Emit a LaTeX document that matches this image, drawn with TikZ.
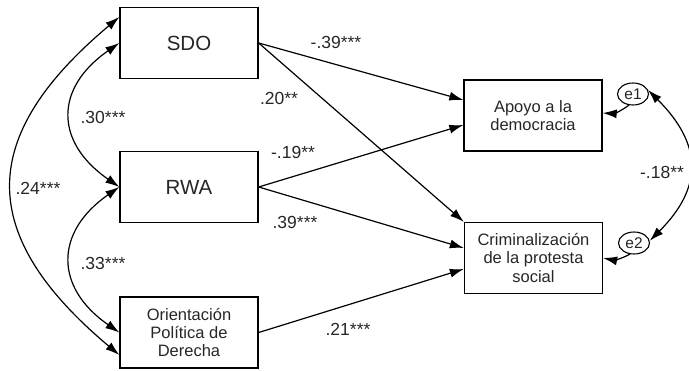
\documentclass[tikz,border=0pt]{standalone}
\usepackage{fontspec}
\setmainfont{Liberation Sans}
\usetikzlibrary{arrows.meta,shapes.geometric}
\begin{document}
\begin{tikzpicture}[x=1pt, y=1pt, line width=1.2pt, >={Latex[length=14pt,width=9pt]},
  box/.style={draw, line width=1.3pt, minimum width=138pt, minimum height=71pt, inner sep=0pt, align=center, text=black!85, font=\fontsize{16.5}{18.3}\selectfont},
  bigbox/.style={box, font=\fontsize{20.5}{24}\selectfont},
  err/.style={draw, ellipse, line width=1.1pt, minimum width=31pt, minimum height=22pt, inner sep=0pt, text=black!85, font=\fontsize{15.5}{18}\selectfont},
  coef/.style={text=black!85, font=\fontsize{17.5}{20}\selectfont}]
\useasboundingbox (0,0) rectangle (689,370);
\node[bigbox] (sdo) at (189,327) {SDO};
\node[bigbox] (rwa) at (189,183) {RWA};
\node[box] (opd) at (189,37.5) {Orientación\\Política de\\Derecha};
\node[box] (apoyo) at (533,254.5) {Apoyo a la\\democracia};
\node[box] (crim) at (533.5,112) {Criminalización\\de la protesta\\social};
\node[err] (e1) at (633,276) {e1};
\node[err] (e2) at (634,127) {e2};
\draw[->] (sdo.east) -- ([yshift=15.5pt]apoyo.west);
\draw[->] (sdo.east) -- (crim.north west);
\draw[->] (rwa.east) -- ([yshift=-9.5pt]apoyo.west);
\draw[->] (rwa.east) -- ([yshift=10pt]crim.west);
\draw[->] (opd.east) -- ([yshift=-11pt]crim.west);
\draw[<->] (sdo.west) .. controls +(-65,-45) and +(-65,45) .. (rwa.west);
\draw[<->] (rwa.west) .. controls +(-65,-45) and +(-65,45) .. (opd.west);
\draw[<->] ([yshift=26pt]sdo.west) .. controls +(-143,-120) and +(-143,120) .. ([yshift=-22.5pt]opd.west);
\draw[<->] (e1.15) .. controls +(54,-54) and +(54,54) .. (e2.8);
\draw[->] (e1.250) to[bend left=20] ([yshift=2.5pt]apoyo.east);
\draw[->] (e2.250) to[bend left=20] (crim.east);
\node[coef] (c1) at (336,328) {-.39***};
\node[coef] (c2) at (279,272) {.20**};
\node[coef] (c3) at (293,218) {-.19**};
\node[coef] (c4) at (295,148) {.39***};
\node[coef] (c5) at (348,41) {.21***};
\node[coef] (c6) at (103,253) {.30***};
\node[coef] (c7) at (103,107) {.33***};
\node[coef] (c8) at (38,182) {.24***};
\node[coef] (c9) at (662,198) {-.18**};
\end{tikzpicture}
\end{document}
